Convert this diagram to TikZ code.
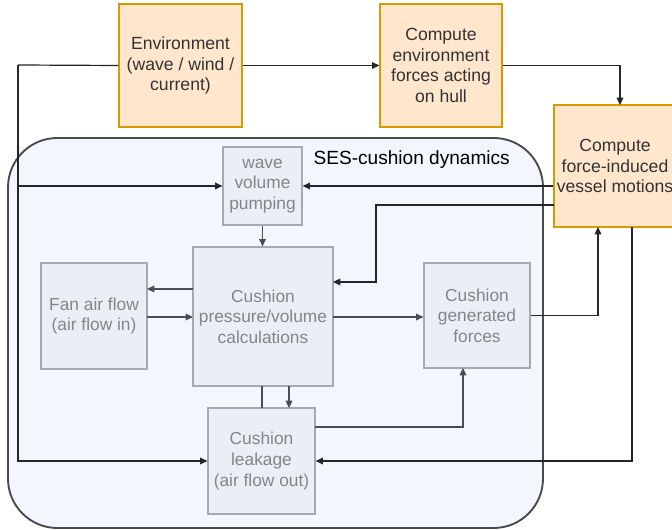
\documentclass[tikz,border=0pt]{standalone}
\usepackage{fontspec}
\setmainfont{Liberation Sans}
\usetikzlibrary{arrows.meta}
\definecolor{ofill}{HTML}{FFE6CC}
\definecolor{oline}{HTML}{D79B00}
\definecolor{bfill}{HTML}{ECEEF7}
\definecolor{bline}{HTML}{A6A9B2}
\definecolor{btext}{HTML}{858585}
\definecolor{cfill}{HTML}{F3F6FD}
\definecolor{cline}{HTML}{4A4A4A}
\definecolor{ilink}{HTML}{4A4D55}
\definecolor{otext}{HTML}{333333}
\tikzset{
  obox/.style={draw=oline, fill=ofill, line width=0.9pt, text=otext, align=center, font=\fontsize{13.2}{15.6}\selectfont, inner sep=0pt},
  ibox/.style={draw=bline, fill=bfill, line width=0.9pt, text=btext, align=center, font=\fontsize{13}{15.4}\selectfont, inner sep=0pt},
  olink/.style={draw=black!85, line width=0.9pt},
  inlink/.style={draw=ilink, line width=0.9pt},
  arr/.style={-{Triangle[length=5.5pt,width=5pt]}}
}
\begin{document}
\begin{tikzpicture}[x=0.75pt,y=-0.75pt]
\clip (0,0) rectangle (672,530);
% container
\node[draw=cline, fill=cfill, line width=1.4pt, rounded corners=37pt, minimum width=535*0.75pt, minimum height=390*0.75pt, inner sep=0pt] (cont) at (275.5,333) {};
\node[font=\fontsize{14.3}{17}\selectfont, text=black, anchor=west] (title) at (309,160) {SES-cushion dynamics};
% orange boxes
\node[obox, minimum width=123*0.75pt, minimum height=123*0.75pt] (env) at (180.5,65.5) {Environment\\(wave / wind /\\current)};
\node[obox, minimum width=122*0.75pt, minimum height=123*0.75pt] (cef) at (441,65.5) {Compute\\environment\\forces acting\\on hull};
\node[obox, minimum width=122*0.75pt, minimum height=122*0.75pt] (cfi) at (615,166) {Compute\\force-induced\\vessel motions};
% inner boxes
\node[ibox, minimum width=79*0.75pt, minimum height=78*0.75pt] (wave) at (262.5,186) {wave\\volume\\pumping};
\node[ibox, minimum width=140*0.75pt, minimum height=139*0.75pt] (press) at (263,316.5) {Cushion\\pressure/volume\\calculations};
\node[ibox, minimum width=106*0.75pt, minimum height=106*0.75pt] (fan) at (94,316) {Fan air flow\\(air flow in)};
\node[ibox, minimum width=106*0.75pt, minimum height=105*0.75pt] (gen) at (477,315.5) {Cushion\\generated\\forces};
\node[ibox, minimum width=107*0.75pt, minimum height=106*0.75pt] (leak) at (261.5,461) {Cushion\\leakage\\(air flow out)};
% helper coordinates
\coordinate (L) at (18,65);
\coordinate (cfiA) at (620,105);
\coordinate (cfiB) at (554,205);
\coordinate (bendB) at (376,205);
\coordinate (pressB) at (333,282);
\coordinate (cfiC) at (598,227);
\coordinate (cfiD) at (632,227);
\coordinate (pressW1) at (193,289);
\coordinate (fanE1) at (147,289);
\coordinate (fanE2) at (147,317);
\coordinate (pressW2) at (193,317);
\coordinate (pressE2) at (333,317);
\coordinate (pressS1) at (262,386);
\coordinate (pressS2) at (289,386);
\coordinate (leakN1) at (262,408);
\coordinate (leakN2) at (289,408);
\coordinate (leakE1) at (315,427);
\coordinate (genS) at (463,368);
% outer connectors
\draw[olink] (env.west) -- (L);
\draw[olink,arr] (L) |- (wave.west);
\draw[olink,arr] (L) |- (leak.west);
\draw[olink,arr] (env.east) -- (cef.west);
\draw[olink,arr] (cef.east) -| (cfiA);
\draw[olink,arr] (cfi.west |- wave.east) -- (wave.east);
\draw[olink,arr] (cfiB) -- (bendB) |- (pressB);
\draw[olink,arr] (gen.east) -| (cfiC);
\draw[olink,arr] (cfiD) |- (leak.east);
% inner connectors
\draw[inlink,arr] (wave.south) -- (press.north -| wave.south);
\draw[inlink,arr] (pressW1) -- (fanE1);
\draw[inlink,arr] (fanE2) -- (pressW2);
\draw[inlink,arr] (pressE2) -- (gen.west |- pressE2);
\draw[inlink] (pressS1) -- (leakN1);
\draw[inlink,arr] (pressS2) -- (leakN2);
\draw[inlink,arr] (leakE1) -| (genS);
\end{tikzpicture}
\end{document}
